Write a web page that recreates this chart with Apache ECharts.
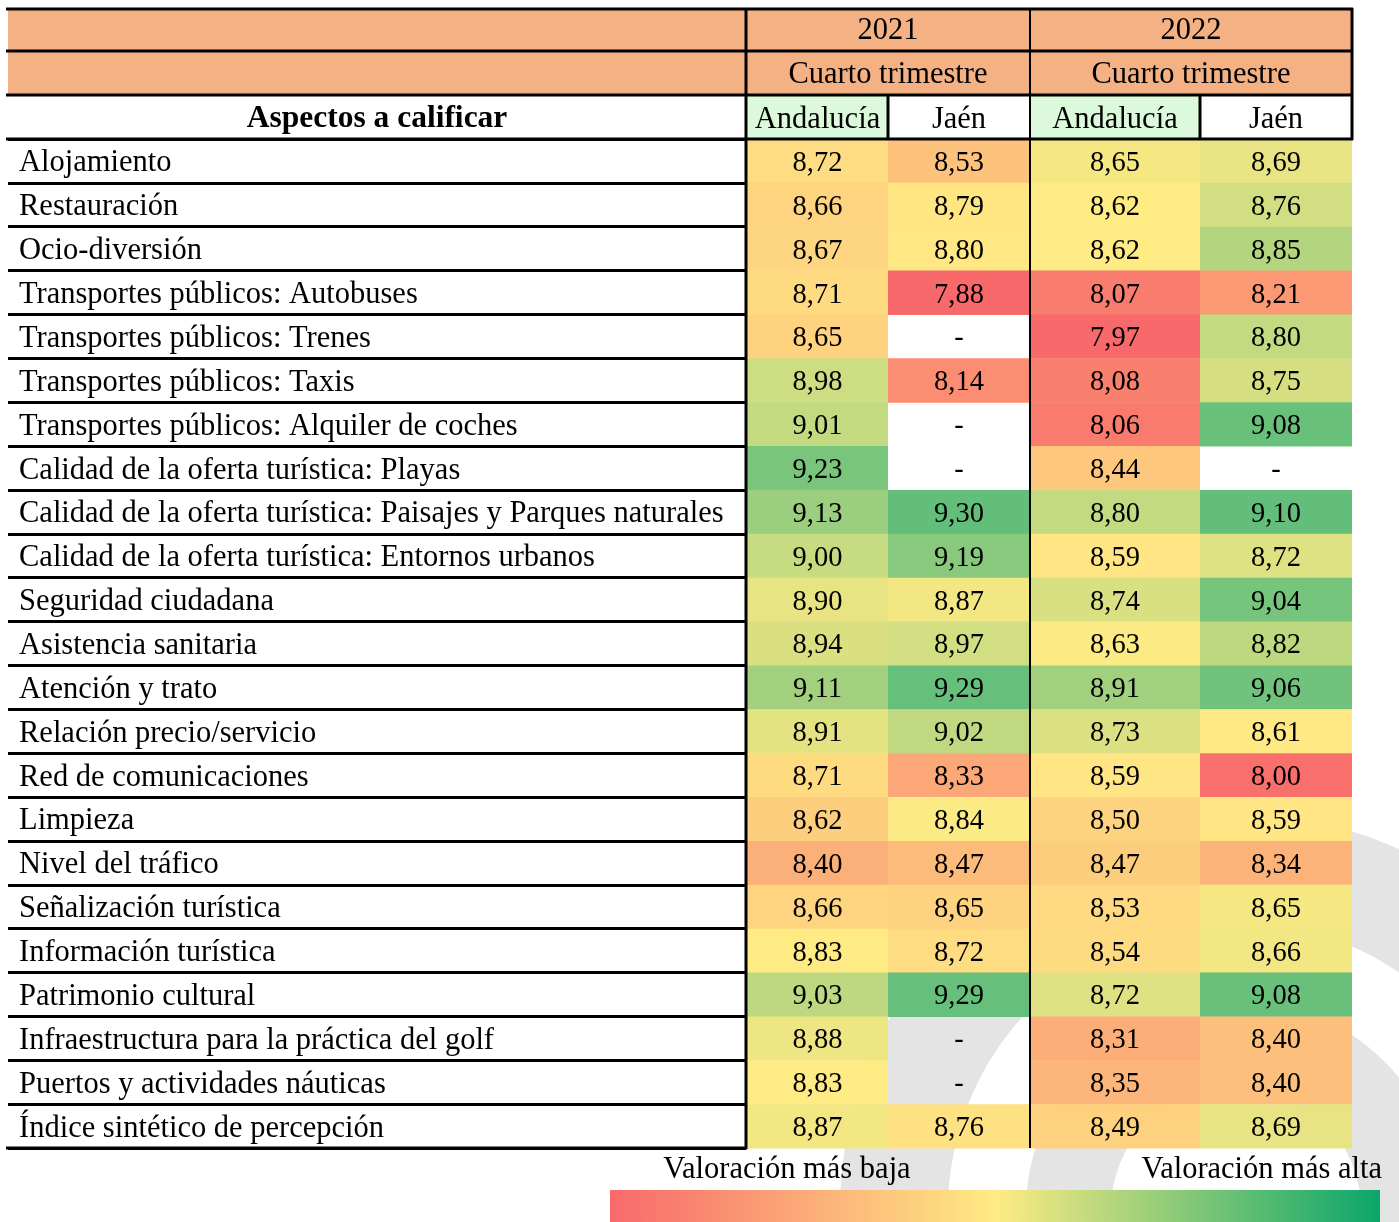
<!DOCTYPE html>
<html>
<head>
<meta charset="utf-8">
<script src="https://cdn.jsdelivr.net/npm/echarts@6/dist/echarts.min.js"></script>
<style>
html,body{margin:0;padding:0;background:#ffffff;}
#chart{width:1399px;height:1222px;}
</style>
</head>
<body>
<div id="chart"></div>
<script>
// ---------- DATA ----------
const aspects = [
  'Alojamiento',
  'Restauración',
  'Ocio-diversión',
  'Transportes públicos: Autobuses',
  'Transportes públicos: Trenes',
  'Transportes públicos: Taxis',
  'Transportes públicos: Alquiler de coches',
  'Calidad de la oferta turística: Playas',
  'Calidad de la oferta turística: Paisajes y Parques naturales',
  'Calidad de la oferta turística: Entornos urbanos',
  'Seguridad ciudadana',
  'Asistencia sanitaria',
  'Atención y trato',
  'Relación precio/servicio',
  'Red de comunicaciones',
  'Limpieza',
  'Nivel del tráfico',
  'Señalización turística',
  'Información turística',
  'Patrimonio cultural',
  'Infraestructura para la práctica del golf',
  'Puertos y actividades náuticas',
  'Índice sintético de percepción'
];
const andalucia2021 = [8.72, 8.66, 8.67, 8.71, 8.65, 8.98, 9.01, 9.23, 9.13, 9.00, 8.90, 8.94, 9.11, 8.91, 8.71, 8.62, 8.40, 8.66, 8.83, 9.03, 8.88, 8.83, 8.87];
const jaen2021      = [8.53, 8.79, 8.80, 7.88, null, 8.14, null, null, 9.30, 9.19, 8.87, 8.97, 9.29, 9.02, 8.33, 8.84, 8.47, 8.65, 8.72, 9.29, null, null, 8.76];
const andalucia2022 = [8.65, 8.62, 8.62, 8.07, 7.97, 8.08, 8.06, 8.44, 8.80, 8.59, 8.74, 8.63, 8.91, 8.73, 8.59, 8.50, 8.47, 8.53, 8.54, 8.72, 8.31, 8.35, 8.49];
const jaen2022      = [8.69, 8.76, 8.85, 8.21, 8.80, 8.75, 9.08, null, 9.10, 8.72, 9.04, 8.82, 9.06, 8.61, 8.00, 8.59, 8.34, 8.65, 8.66, 9.08, 8.40, 8.40, 8.69];
const years = ['2021', '2022'];
const periods = ['Cuarto trimestre', 'Cuarto trimestre'];
const regions = ['Andalucía', 'Jaén'];
const headerTitle = 'Aspectos a calificar';
const legendLow = 'Valoración más baja';
const legendHigh = 'Valoración más alta';

// ---------- STYLE / LAYOUT ----------
const FONT = '"Liberation Serif", "Times New Roman", serif';
const FS = 30.5;      // text
const FSN = 28.5;     // numbers
const TOP = 139, BOTTOM = 1148;
const H = BOTTOM - TOP;
const LABEL_LEFT = 8, LABEL_RIGHT = 746;
const colBounds = [[747, 888], [888, 1030], [1030, 1200], [1200, 1352]];
const RED = [248, 105, 107], YEL = [255, 235, 132], GRN = [99, 190, 123];

function mix(a, b, t) {
  t = Math.max(0, Math.min(1, t));
  return 'rgb(' + a.map((c, i) => Math.round(c + (b[i] - c) * t)).join(',') + ')';
}
function makeScale(lists) {
  const v = [].concat(...lists).filter(x => x != null).sort((a, b) => a - b);
  const n = v.length, min = v[0], max = v[n - 1];
  const med = n % 2 ? v[(n - 1) / 2] : (v[n / 2 - 1] + v[n / 2]) / 2;
  return x => x <= med ? mix(RED, YEL, (x - min) / (med - min)) : mix(YEL, GRN, (x - med) / (max - med));
}
const scale2021 = makeScale([andalucia2021, jaen2021]);
const scale2022 = makeScale([andalucia2022, jaen2022]);
const columns = [
  { name: regions[0], values: andalucia2021, scale: scale2021, head: '#DDF9DC' },
  { name: regions[1], values: jaen2021, scale: scale2021, head: '#FFFFFF' },
  { name: regions[0], values: andalucia2022, scale: scale2022, head: '#DDF9DC' },
  { name: regions[1], values: jaen2022, scale: scale2022, head: '#FFFFFF' }
];
const fmt = v => v == null ? '-' : v.toFixed(2).replace('.', ',');

const grids = [{ left: LABEL_LEFT, top: TOP, width: LABEL_RIGHT - LABEL_LEFT, height: H }];
const xAxes = [{ gridIndex: 0, type: 'category', data: [''], show: false }];
const yAxes = [{
  gridIndex: 0, type: 'category', data: aspects, inverse: true,
  axisLine: { show: false }, axisTick: { show: false }, axisLabel: { show: false },
  splitLine: { show: true, lineStyle: { color: '#000', width: 3 } }
}];
const series = [{
  type: 'custom', xAxisIndex: 0, yAxisIndex: 0, z: 3,
  data: aspects.map((a, i) => [0, i]),
  renderItem: function (params, api) {
    const p = api.coord([0, params.dataIndex]);
    const s = api.size([1, 1]);
    return { type: 'text', style: { text: aspects[params.dataIndex], x: p[0] - s[0] / 2 + 11, y: p[1] + 2.5, align: 'left', verticalAlign: 'middle', font: FS + 'px ' + FONT, fill: '#000' } };
  }
}];
columns.forEach((col, k) => {
  const gi = k + 1;
  const [l, r] = colBounds[k];
  grids.push({ left: l, top: TOP, width: r - l, height: H });
  xAxes.push({
    gridIndex: gi, type: 'category', data: [col.name], position: 'top', z: 10,
    axisLine: { show: false }, axisTick: { show: false }, splitLine: { show: false },
    axisLabel: { margin: 19, verticalAlign: 'middle', fontFamily: FONT, fontSize: FS, color: '#000' }
  });
  yAxes.push({ gridIndex: gi, type: 'category', data: aspects, inverse: true, show: false });
  series.push({
    type: 'custom', xAxisIndex: gi, yAxisIndex: gi, z: 2,
    data: col.values.map((v, i) => [0, i]),
    renderItem: function (params, api) {
      const v = col.values[params.dataIndex];
      const p = api.coord([0, params.dataIndex]);
      const s = api.size([1, 1]);
      const children = [];
      if (v != null) {
        children.push({ type: 'rect', shape: { x: p[0] - s[0] / 2, y: p[1] - s[1] / 2, width: s[0], height: s[1] + 0.5 }, style: { fill: col.scale(v) } });
      }
      children.push({ type: 'text', style: { text: fmt(v), x: p[0], y: p[1] + 2.5, align: 'center', verticalAlign: 'middle', font: FSN + 'px ' + FONT, fill: '#000' } });
      return { type: 'group', children: children };
    }
  });
});

// ---------- GRAPHIC (header, borders, legend, watermark) ----------
const G = [];
// watermark
const WM = { cx: 1236, cy: 1210 };
[[288, 396], [125, 210]].forEach(([r0, r]) => {
  G.push({ type: 'ring', z: -10, silent: true, shape: { cx: WM.cx, cy: WM.cy, r: r, r0: r0 }, style: { fill: '#E4E4E4' } });
});
// header fills
G.push({ type: 'rect', z: -5, shape: { x: LABEL_LEFT, y: 8, width: 1352 - LABEL_LEFT, height: 87 }, style: { fill: '#F4B183' } });
G.push({ type: 'rect', z: -5, shape: { x: LABEL_LEFT, y: 95, width: LABEL_RIGHT - LABEL_LEFT, height: 44 }, style: { fill: '#FFFFFF' } });
columns.forEach((col, k) => {
  const [l, r] = colBounds[k];
  G.push({ type: 'rect', z: -5, shape: { x: l, y: 95, width: r - l, height: 44 }, style: { fill: col.head } });
});
// header texts
const blockSpans = [[746, 1030], [1030, 1352]];
years.forEach((y, i) => {
  const cx = (blockSpans[i][0] + blockSpans[i][1]) / 2;
  G.push({ type: 'text', z: 5, style: { text: y, x: cx, y: 31, align: 'center', verticalAlign: 'middle', font: FS + 'px ' + FONT, fill: '#000' } });
  G.push({ type: 'text', z: 5, style: { text: periods[i], x: cx, y: 75, align: 'center', verticalAlign: 'middle', font: FS + 'px ' + FONT, fill: '#000' } });
});
G.push({ type: 'text', z: 5, style: { text: headerTitle, x: (LABEL_LEFT + LABEL_RIGHT) / 2, y: 119, align: 'center', verticalAlign: 'middle', font: 'bold ' + (FS + 1) + 'px ' + FONT, fill: '#000' } });
// borders
function line(x1, y1, x2, y2, w) {
  G.push({ type: 'line', z: 20, silent: true, shape: { x1, y1, x2, y2 }, style: { stroke: '#000', lineWidth: w } });
}
[9, 51, 95, 139].forEach(y => line(6, y, 1353, y, 3));
line(746, 8, 746, BOTTOM + 1, 3);
line(1030, 8, 1030, BOTTOM, 2);
line(1352, 8, 1352, 140, 3);
line(888, 95, 888, 139, 3);
line(1200, 95, 1200, 139, 3);
line(6, BOTTOM, 747, BOTTOM, 3);
// legend
G.push({ type: 'text', z: 5, style: { text: legendLow, x: 787, y: 1170, align: 'center', verticalAlign: 'middle', font: FS + 'px ' + FONT, fill: '#000' } });
G.push({ type: 'text', z: 5, style: { text: legendHigh, x: 1382, y: 1170, align: 'right', verticalAlign: 'middle', font: FS + 'px ' + FONT, fill: '#000' } });
G.push({
  type: 'rect', z: 5, shape: { x: 610, y: 1190, width: 770, height: 32 },
  style: { fill: new echarts.graphic.LinearGradient(0, 0, 1, 0, [
    { offset: 0, color: '#F8696B' }, { offset: 0.5, color: '#FFEB84' }, { offset: 1, color: '#0AA66A' }
  ]) }
});

const chart = echarts.init(document.getElementById('chart'), null, { renderer: 'canvas' });
chart.setOption({
  backgroundColor: '#FFFFFF',
  animation: false,
  grid: grids,
  xAxis: xAxes,
  yAxis: yAxes,
  series: series,
  graphic: { elements: G }
});
</script>
</body>
</html>
